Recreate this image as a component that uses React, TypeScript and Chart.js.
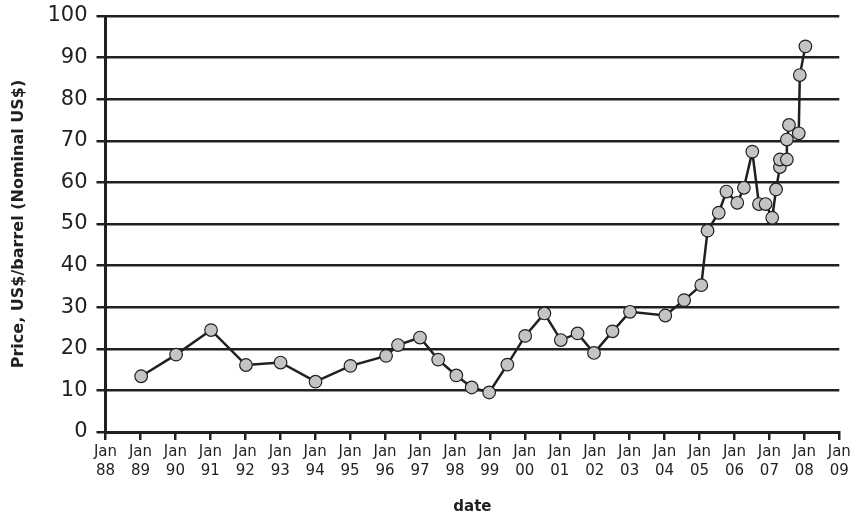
import React, { useEffect, useRef } from "react";
import { Chart, registerables } from "chart.js";

Chart.register(...registerables);

// decimal years (Jan = .0)
const dates: number[] = [
  1989.02, 1990.02, 1991.02, 1992.02, 1993.01, 1994.01, 1995.01, 1996.03, 1996.37, 1997.0,
  1997.52, 1998.04, 1998.48, 1998.98, 1999.5, 2000.01, 2000.56, 2001.03, 2001.51, 2001.98,
  2002.51, 2003.01, 2004.02, 2004.56, 2005.05, 2005.23, 2005.55, 2005.77, 2006.08, 2006.27,
  2006.51, 2006.7, 2006.89, 2007.08, 2007.19, 2007.3, 2007.3, 2007.5, 2007.5, 2007.56,
  2007.84, 2007.87, 2008.03,
];
const prices: number[] = [
  13.4, 18.6, 24.5, 16.1, 16.7, 12.1, 15.9, 18.3, 20.9, 22.7,
  17.4, 13.6, 10.7, 9.5, 16.2, 23.1, 28.5, 22.1, 23.7, 19.0,
  24.2, 28.9, 28.0, 31.7, 35.3, 48.4, 52.7, 57.8, 55.1, 58.7,
  67.4, 54.8, 54.8, 51.5, 58.3, 63.7, 65.5, 65.5, 70.3, 73.8,
  71.8, 85.8, 92.7,
];
const xMin = 1988;
const xMax = 2009;
const yMin = 0;
const yMax = 100;
const yStep = 10;
const tickMonth = "Jan";
const xTitle = "date";
const yTitle = "Price, US$/barrel (Nominal US$)";

const INK = "#231f20";
const FONT = "'DejaVu Sans', sans-serif";

export default function App() {
  const ref = useRef<HTMLCanvasElement | null>(null);
  useEffect(() => {
    document.body.style.margin = "0";
    if (!ref.current) return;
    const data = dates.map((d, i) => ({ x: d, y: prices[i] }));
    const chart = new Chart(ref.current, {
      type: "line",
      data: {
        datasets: [
          {
            data,
            borderColor: INK,
            borderWidth: 2.5,
            backgroundColor: "#c4c4c4",
            pointBackgroundColor: "#c4c4c4",
            pointBorderColor: INK,
            pointBorderWidth: 1.2,
            pointRadius: 6.3,
            tension: 0,
          },
        ],
      },
      options: {
        animation: false,
        responsive: false,
        maintainAspectRatio: false,
        layout: { padding: { left: 0, right: 12.7, top: 16, bottom: 0 } },
        plugins: { legend: { display: false }, tooltip: { enabled: false } },
        scales: {
          x: {
            type: "linear",
            min: xMin,
            max: xMax,
            afterFit: (s: any) => {
              s.height = 84;
              s.paddingLeft = 0;
              s.paddingRight = 0;
            },
            ticks: {
              stepSize: 1,
              autoSkip: false,
              maxRotation: 0,
              minRotation: 0,
              padding: 3,
              color: INK,
              font: { family: FONT, size: 15, lineHeight: 1.27 },
              callback: (v: any) => [tickMonth, String(Number(v) % 100).padStart(2, "0")],
            },
            grid: {
              drawOnChartArea: false,
              drawTicks: true,
              tickLength: 8,
              color: INK,
              lineWidth: 2.5,
            },
            border: { display: true, color: INK, width: 3 },
            title: {
              display: true,
              text: xTitle,
              color: INK,
              font: { family: FONT, size: 15, weight: "bold", lineHeight: 1.2 },
              padding: { top: 0, bottom: 0 },
            },
          },
          y: {
            type: "linear",
            min: yMin,
            max: yMax,
            afterFit: (s: any) => {
              s.width = 105.5;
              s.paddingTop = 0;
              s.paddingBottom = 0;
            },
            ticks: {
              stepSize: yStep,
              padding: 9,
              color: INK,
              font: { family: FONT, size: 21 },
            },
            grid: {
              drawOnChartArea: true,
              drawTicks: true,
              tickLength: 9,
              color: INK,
              lineWidth: 2.5,
            },
            border: { display: true, color: INK, width: 3 },
            title: {
              display: true,
              text: yTitle,
              color: INK,
              font: { family: FONT, size: 16, weight: "bold", lineHeight: 1.2 },
              padding: { top: 9, bottom: 0 },
            },
          },
        },
      },
    });
    return () => chart.destroy();
  }, []);
  return (
    <div style={{ position: "absolute", left: 0, top: 0, width: 852, height: 516, background: "#fff" }}>
      <canvas ref={ref} width={852} height={516} style={{ display: "block", width: 852, height: 516 }} />
    </div>
  );
}
